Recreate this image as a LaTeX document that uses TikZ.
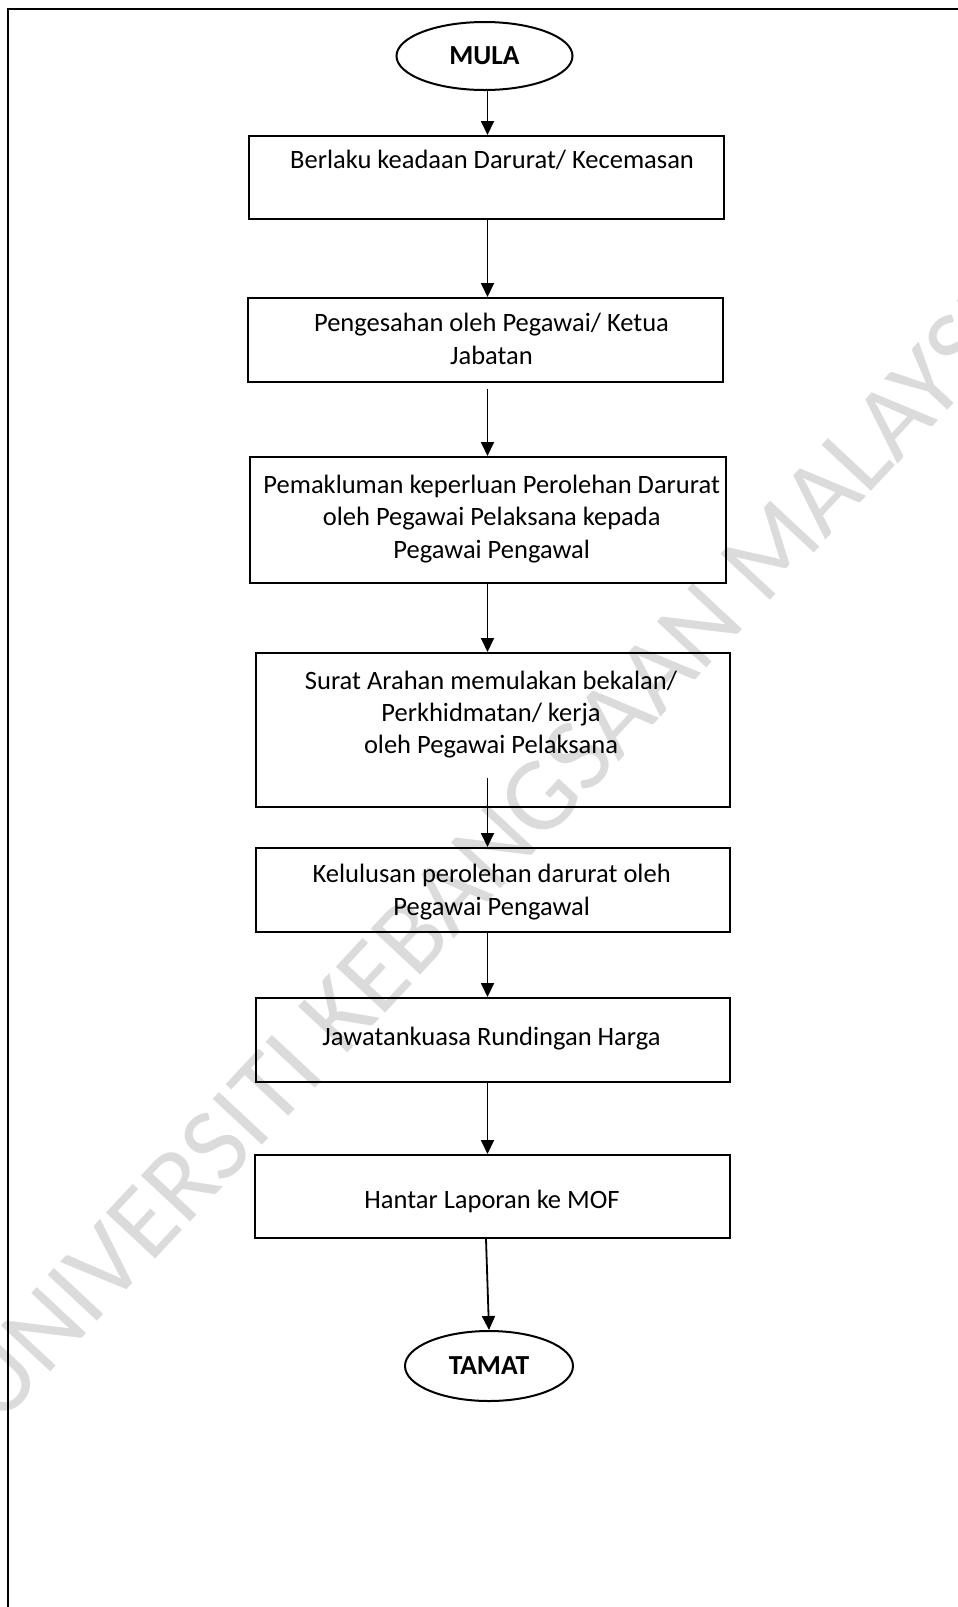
\documentclass[tikz,border=0pt]{standalone}
\usepackage{fontspec}
\setmainfont{Carlito}
\usetikzlibrary{shapes.geometric,arrows.meta,calc}

\begin{document}
\begin{tikzpicture}[x=1pt,y=-1pt,
  proc/.style={draw, line width=2pt, rectangle, inner sep=0pt},
  term/.style={draw, line width=2pt, ellipse, inner sep=0pt,
    font=\fontsize{27.5}{32}\selectfont\bfseries},
  lbl/.style={align=center, inner sep=0pt,
    font=\fontsize{26.5}{32.3}\selectfont},
  arr/.style={line width=1.8pt, -{Triangle[length=14pt,width=13pt]}},
  frameline/.style={line width=2pt}
]
\useasboundingbox (0,0) rectangle (958,1607);

% background stamp
\node[rotate=47, text=black!14, inner sep=0pt,
  font=\fontsize{105}{105}\selectfont] (stamp) at (505,835)
  {UNIVERSITI KEBANGSAAN MALAYSIA};

% page frame (open at right and bottom)
\draw[frameline] (8,1607) -- (8,9) -- (958,9);

% terminals
\node[term, minimum width=176pt, minimum height=68pt] (mula) at (484.5,56) {MULA};
\node[term, minimum width=168pt, minimum height=70pt] (tamat) at (489,1366) {TAMAT};

% process boxes
\node[proc, minimum width=475pt, minimum height=83pt]  (b1) at (486.5,177.5) {};
\node[proc, minimum width=475pt, minimum height=84pt]  (b2) at (485.5,340) {};
\node[proc, minimum width=476pt, minimum height=126pt] (b3) at (488,520) {};
\node[proc, minimum width=474pt, minimum height=154pt] (b4) at (493,730) {};
\node[proc, minimum width=474pt, minimum height=84pt]  (b5) at (493,890) {};
\node[proc, minimum width=474pt, minimum height=84pt]  (b6) at (493,1040) {};
\node[proc, minimum width=475pt, minimum height=83pt]  (b7) at (492.5,1196.5) {};

% box texts
\node[lbl] (t1) at (492,160) {Berlaku keadaan Darurat/ Kecemasan};
\node[lbl] (t2) at (491.5,339) {Pengesahan oleh Pegawai/ Ketua\\Jabatan};
\node[lbl] (t3) at (491.7,519) {Pemakluman keperluan Perolehan Darurat\\oleh Pegawai Pelaksana kepada\\Pegawai Pengawal};
\node[lbl] (t4) at (491,714.5) {Surat Arahan memulakan bekalan/\\Perkhidmatan/ kerja\\oleh Pegawai Pelaksana};
\node[lbl] (t5) at (491.7,892) {Kelulusan perolehan darurat oleh\\Pegawai Pengawal};
\node[lbl] (t6) at (491.5,1039) {Jawatankuasa Rundingan Harga};
\node[lbl] (t7) at (492,1201.7) {Hantar Laporan ke MOF};

% flow arrows along a common vertical axis
\coordinate (spine) at (487.5,0);
\draw[arr] (spine |- mula.south) -- (spine |- b1.north);
\draw[arr] (spine |- b1.south) -- (spine |- b2.north);
\draw[arr] ([yshift=-6pt]spine |- b2.south) -- (spine |- b3.north);
\draw[arr] (spine |- b3.south) -- (spine |- b4.north);
\draw[arr] ([yshift=30pt]spine |- b4.south) -- (spine |- b5.north);
\draw[arr] (spine |- b5.south) -- (spine |- b6.north);
\draw[arr] (spine |- b6.south) -- (spine |- b7.north);
\draw[arr] ([xshift=-1.5pt]spine |- b7.south) -- (tamat.north);
\end{tikzpicture}
\end{document}
